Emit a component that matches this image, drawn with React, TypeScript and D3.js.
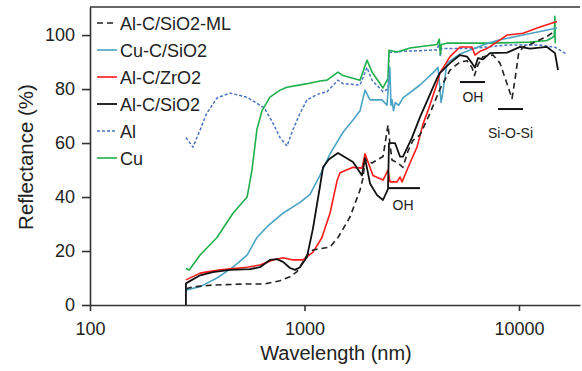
import React, { useEffect, useRef } from 'react'
import * as d3 from 'd3'

// wavelength (nm), reflectance (%)
const alML: [number, number][] = [
  [280, 6], [302, 6.7], [374, 7.4], [540, 7.8], [650, 7.8], [769, 9], [856, 10.5], [923, 12.4],
  [1027, 18.5], [1096, 20.4], [1315, 21.5], [1433, 25], [1630, 32.6], [1815, 42.6], [1874, 47],
  [1915, 53.7], [2064, 52.6], [2323, 55], [2451, 66.7], [2500, 60], [2558, 53.7], [2729, 52.6],
  [2879, 51], [3038, 57], [3205, 61], [3455, 63], [3846, 71], [4282, 80], [4768, 87], [5308, 90],
  [5725, 90.5], [6038, 88], [6200, 85], [6440, 89], [6795, 92], [7565, 92.6], [8155, 89.6],
  [8793, 82], [9277, 76.5], [9600, 84], [9950, 93], [10437, 95.6], [11254, 96.5], [13504, 99.5],
  [14718, 101.5],
]

const cuC: [number, number][] = [
  [280, 5.5], [330, 7], [391, 10], [464, 14], [540, 18.5], [600, 25], [669, 29], [794, 34],
  [953, 38], [1061, 41], [1181, 48], [1315, 56], [1512, 64], [1683, 68.5], [1815, 72],
  [1915, 79.6], [2021, 76], [2298, 76], [2424, 74], [2500, 88], [2530, 74], [2560, 76],
  [2600, 72], [2650, 75], [2750, 74], [2880, 76.7], [3455, 81.5], [3972, 86], [4192, 88],
  [4282, 80], [4330, 75], [4400, 78], [4616, 89.6], [5308, 93], [6795, 96.3], [7897, 98],
  [10437, 100], [15040, 102.6],
]

const alZr: [number, number][] = [
  [280, 9.3], [326, 11.8], [404, 13], [540, 14], [620, 14.8], [713, 16.7], [794, 17.5],
  [884, 16.7], [984, 16.7], [1096, 19.6], [1206, 25], [1315, 34], [1418, 46], [1464, 49],
  [1683, 51], [1854, 50.7], [1915, 56], [1977, 53], [2086, 48], [2323, 46.3], [2451, 50],
  [2503, 45.6], [2699, 45.6], [2787, 47.4], [2849, 45.6], [3103, 52.6], [3346, 58.5],
  [3568, 67], [3764, 72], [4147, 82], [4282, 86], [4768, 92], [5308, 95.6], [6038, 95.6],
  [6235, 92.6], [6580, 94], [7094, 95], [8793, 100], [10437, 100.7], [12529, 103], [15040, 105],
]

const alC: [number, number][] = [
  [280, 0], [280, 8], [326, 11], [374, 12.2], [449, 13], [557, 13.3], [620, 14], [690, 16.7],
  [744, 17], [794, 16], [856, 13.7], [903, 13], [953, 14], [1027, 17.8], [1096, 28.5],
  [1181, 44], [1220, 51], [1300, 54], [1433, 56.3], [1683, 53], [1854, 48], [1915, 54.4],
  [2021, 45], [2178, 40.7], [2323, 38.9], [2451, 43], [2477, 60], [2642, 60], [2787, 55],
  [2879, 55], [3171, 62], [3455, 69.6], [3846, 78], [4147, 84], [4282, 86], [4768, 89.6],
  [5308, 92.6], [5725, 92], [6038, 89.6], [6235, 88], [6440, 91.5], [6795, 91], [7325, 93.3],
  [8793, 93.5], [10108, 95.6], [11254, 95], [13504, 95.6], [14718, 93.3], [15200, 87],
]

const al: [number, number][] = [
  [280, 62], [302, 58.5], [326, 64.8], [350, 71], [391, 76.7], [449, 78.5], [539, 77],
  [650, 73], [713, 67.4], [769, 62], [829, 58.9], [884, 65], [953, 71], [1027, 76],
  [1144, 78], [1273, 79], [1433, 83.3], [1512, 82], [1815, 81.5], [1956, 88], [2064, 83.3],
  [2323, 79], [2451, 80], [2477, 93.5], [2880, 94], [4150, 94.5], [4250, 97], [4300, 92],
  [4350, 95], [4616, 95], [5910, 95], [8793, 96.3], [12529, 96.3], [14718, 95.5],
  [16040, 93.7], [16740, 93],
]

const cu: [number, number][] = [
  [280, 13.5], [290, 13], [326, 18.5], [391, 25], [464, 34], [540, 40], [569, 50], [600, 65],
  [634, 72], [690, 77], [769, 79.6], [829, 80.7], [1030, 82], [1181, 83], [1273, 83.3],
  [1433, 86.3], [1512, 85], [1815, 83.3], [1956, 90.7], [2064, 86.3], [2323, 80.4],
  [2451, 84], [2477, 94.4], [2700, 93.7], [2880, 94.4], [3100, 95.2], [4150, 96.5],
  [4250, 98.5], [4300, 93], [4350, 96.5], [4616, 97], [7325, 97], [11254, 97.4],
  [13504, 98], [14250, 99], [14600, 99.5], [14700, 107], [14750, 97],
]

const xTicks = [100, 1000, 10000]
const yTicks = [0, 20, 40, 60, 80, 100]

const series = [
  { name: 'Al-C/SiO2-ML', data: alML, color: '#222', dash: '6,4', width: 1.6 },
  { name: 'Cu-C/SiO2', data: cuC, color: '#4ba3c3', dash: null, width: 1.6 },
  { name: 'Al-C/ZrO2', data: alZr, color: '#ff1a1a', dash: null, width: 1.6 },
  { name: 'Al-C/SiO2', data: alC, color: '#111', dash: null, width: 1.8 },
  { name: 'Al', data: al, color: '#4a72c0', dash: '3,2', width: 1.5 },
  { name: 'Cu', data: cu, color: '#1db04a', dash: null, width: 1.6 },
]
const drawOrder = ['Al', 'Cu', 'Cu-C/SiO2', 'Al-C/ZrO2', 'Al-C/SiO2', 'Al-C/SiO2-ML']

// annotation bars: label, bar from/to (nm), bar level, text position
const notes = [
  { label: 'OH', from: 2477, to: 3455, r: 43.3, tx: 2880, ty: 35.2 },
  { label: 'OH', from: 5308, to: 6942, r: 82.6, tx: 6100, ty: 75.2 },
  { label: 'Si-O-Si', from: 7984, to: 10437, r: 72.6, tx: 9130, ty: 61.9 },
]

const W = 582
const H = 371
const margin = { top: 7, right: 2, bottom: 66, left: 90 }
const font = '"Liberation Sans", Arial, sans-serif'

const App = () => {
  const xAxisRef = useRef<SVGGElement>(null)
  const yAxisRef = useRef<SVGGElement>(null)
  const iw = W - margin.left - margin.right
  const ih = H - margin.top - margin.bottom

  const x = d3.scaleLog().domain([100, 19250]).range([0, iw])
  const y = d3.scaleLinear().domain([0, 110.4]).range([ih, 0])

  const line = d3.line<[number, number]>().x((d) => x(d[0])).y((d) => y(d[1]))

  useEffect(() => {
    const gx = d3.select(xAxisRef.current)
    gx.call(d3.axisBottom(x).tickValues(xTicks).tickFormat(d3.format('d')).tickSize(6).tickSizeOuter(0).tickPadding(11) as any)
    const gy = d3.select(yAxisRef.current)
    gy.call(d3.axisLeft(y).tickValues(yTicks).tickSize(8).tickSizeOuter(0).tickPadding(7) as any)
    ;[gx, gy].forEach((g) => {
      g.selectAll('path').attr('stroke', '#333').attr('stroke-width', 1.6)
      g.selectAll('line').attr('stroke', '#333').attr('stroke-width', 1.6)
      g.selectAll('text').attr('font-size', 18).attr('font-family', font).attr('fill', '#222')
    })
  }, [])

  return (
    <svg width={W} height={H} style={{ position: 'absolute', left: 0, top: 0, background: '#fff' }}>
      <g transform={`translate(${margin.left},${margin.top})`}>
        <line x1={0} x2={iw} y1={0} y2={0} stroke="#333" strokeWidth={1.6} />
        {drawOrder.map((n) => {
          const s = series.find((d) => d.name === n)!
          return (
            <path key={n} d={line(s.data) || ''} fill="none" stroke={s.color}
              strokeWidth={s.width} strokeDasharray={s.dash || undefined} strokeLinejoin="round" />
          )
        })}
        {notes.map((a, i) => (
          <g key={i}>
            <line x1={x(a.from)} x2={x(a.to)} y1={y(a.r)} y2={y(a.r)} stroke="#111" strokeWidth={2} />
            <text x={x(a.tx)} y={y(a.ty)} textAnchor="middle" fontSize={14} fontFamily={font} fill="#222">{a.label}</text>
          </g>
        ))}
        <g ref={xAxisRef} transform={`translate(0,${ih})`} />
        <g ref={yAxisRef} />
        {series.map((s, i) => (
          <g key={s.name} transform={`translate(7,${16 + i * 27})`}>
            <line x1={0} x2={20} y1={0} y2={0} stroke={s.color} strokeWidth={s.width}
              strokeDasharray={s.dash || undefined} />
            <text x={23} y={6.5} fontSize={18} fontFamily={font} fill="#222">{s.name}</text>
          </g>
        ))}
      </g>
      <text x={336} y={360} textAnchor="middle" fontSize={20} fontFamily={font} fill="#222">Wavelength (nm)</text>
      <text transform="translate(33,157) rotate(-90)" textAnchor="middle" fontSize={20.5} fontFamily={font} fill="#222">Reflectance (%)</text>
    </svg>
  )
}

export default App
